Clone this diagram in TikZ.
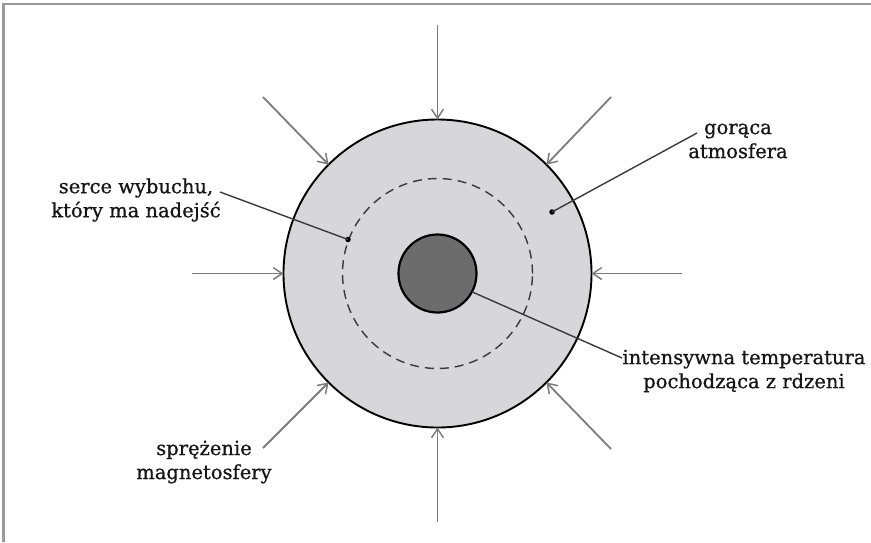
\documentclass[tikz,border=0pt]{standalone}
\usepackage{fontspec}
\setmainfont[FakeBold=0.8]{DejaVu Serif}
\usetikzlibrary{arrows.meta}
\definecolor{framegray}{HTML}{999999}
\definecolor{arrowgray}{HTML}{7C7C7C}
\definecolor{fillgray}{HTML}{D7D7D9}
\definecolor{coregray}{HTML}{6C6C6C}
\definecolor{leadgray}{HTML}{3A3A3A}
\definecolor{textdark}{HTML}{161616}
\tikzset{
  inarrow/.style={draw=arrowgray, line width=1.8pt, -{Straight Barb[length=9pt,width=12pt,line width=1.5pt]}},
  leader/.style={draw=leadgray, line width=1.4pt},
  ldot/.style={circle, fill=black, inner sep=0pt, minimum size=5.5pt},
  lbl/.style={align=center, inner sep=0pt, text=textdark, font=\fontsize{19.5}{24}\selectfont},
}
\begin{document}
\begin{tikzpicture}[x=1pt, y=-1pt]
\useasboundingbox (0,0) rectangle (871,542);
% frame
\draw[framegray, line width=2.2pt] (3.5,542) -- (3.5,4) -- (871,4);
% shapes
\node[circle, draw=black, fill=fillgray, line width=1.9pt, minimum size=308pt, inner sep=0pt, outer sep=0pt] (outer) at (437.5,273.5) {};
\node[circle, draw=leadgray, dashed, dash pattern=on 9pt off 6pt, line width=1.4pt, minimum size=190pt, inner sep=0pt, outer sep=0pt] (mid) at (437.5,273.5) {};
\node[circle, draw=black, fill=coregray, line width=2.2pt, minimum size=78pt, inner sep=0pt, outer sep=0pt] (core) at (437.5,273.5) {};
% arrow origins
\coordinate (sT) at (437.5,25);
\coordinate (sB) at (437.5,522);
\coordinate (sL) at (192,273.5);
\coordinate (sR) at (682,273.5);
\coordinate (sTL) at (263,97);
\coordinate (sTR) at (611,97);
\coordinate (sBR) at (611,449);
\coordinate (sBL) at (263,448);
\draw[inarrow] (sT) -- (outer.north);
\draw[inarrow] (sB) -- (outer.south);
\draw[inarrow] (sL) -- (outer.west);
\draw[inarrow] (sR) -- (outer.east);
\draw[inarrow] (sTL) -- (outer.135);
\draw[inarrow] (sTR) -- (outer.45);
\draw[inarrow] (sBR) -- (outer.-45);
\draw[inarrow] (sBL) -- (outer.-135);
% labels
\node[lbl] (serce) at (136,200) {serce wybuchu,\\który ma nadejść};
\node[lbl] (atm) at (738,141) {gorąca\\atmosfera};
\node[lbl] (temp) at (744,371) {intensywna temperatura\\pochodząca z rdzeni};
\node[lbl] (spr) at (204,462) {sprężenie\\magnetosfery};
% leaders
\node[ldot] (d1) at (348,239.5) {};
\node[ldot] (d2) at (552,212) {};
\coordinate (c1) at (220,192);
\coordinate (c2) at (697,133);
\coordinate (c3) at (622,358);
\draw[leader] (c1) -- (d1.center);
\draw[leader] (c2) -- (d2.center);
\draw[leader] (core.-28) -- (c3);
\end{tikzpicture}
\end{document}
